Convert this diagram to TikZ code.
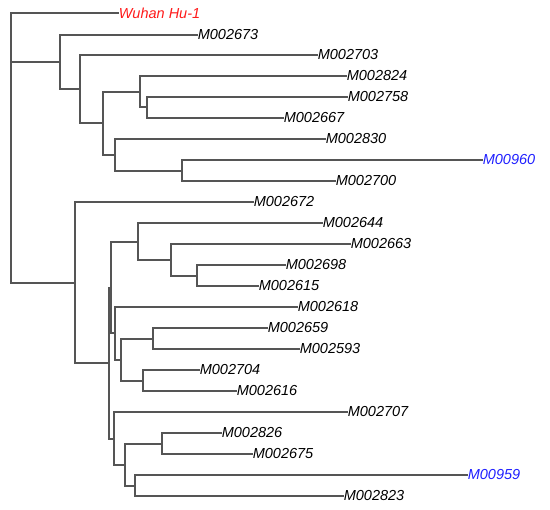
\documentclass[tikz,border=0pt]{standalone}
\usepackage{fontspec}
\setmainfont{Liberation Sans}
\definecolor{branch}{HTML}{555555}
\definecolor{refred}{HTML}{FF1A1A}
\definecolor{refblue}{HTML}{2020FF}
\tikzset{
  leaf/.style={anchor=west, inner sep=0.6pt, font=\fontsize{14.5}{17}\selectfont\itshape, text=black},
  redleaf/.style={leaf, text=refred},
  blueleaf/.style={leaf, text=refblue},
  branchline/.style={draw=branch, line width=1.1pt, line cap=rect}
}
\begin{document}
\begin{tikzpicture}[x=1pt, y=-1pt]
\useasboundingbox (0,0) rectangle (550,510);
% leaves
\node[redleaf] (wuhan) at (118,13) {Wuhan Hu-1};
\node[leaf] (l2673) at (197,35) {M002673};
\node[leaf] (l2703) at (317,55) {M002703};
\node[leaf] (l2824) at (346,76) {M002824};
\node[leaf] (l2758) at (347,97) {M002758};
\node[leaf] (l2667) at (283,118) {M002667};
\node[leaf] (l2830) at (325,139) {M002830};
\node[blueleaf] (l960) at (482,160) {M00960};
\node[leaf] (l2700) at (335,181) {M002700};
\node[leaf] (l2672) at (253,202) {M002672};
\node[leaf] (l2644) at (322,223) {M002644};
\node[leaf] (l2663) at (350,244) {M002663};
\node[leaf] (l2698) at (285,265) {M002698};
\node[leaf] (l2615) at (258,286) {M002615};
\node[leaf] (l2618) at (297,307) {M002618};
\node[leaf] (l2659) at (267,328) {M002659};
\node[leaf] (l2593) at (299,349) {M002593};
\node[leaf] (l2704) at (199,370) {M002704};
\node[leaf] (l2616) at (236,391) {M002616};
\node[leaf] (l2707) at (347,412) {M002707};
\node[leaf] (l2826) at (221,433) {M002826};
\node[leaf] (l2675) at (252,454) {M002675};
\node[blueleaf] (l959) at (467,475) {M00959};
\node[leaf] (l2823) at (343,496) {M002823};
% internal nodes
\coordinate (root) at (11,148);
\coordinate (nA) at (60,62);
\coordinate (nA2) at (80,89);
\coordinate (nA3) at (103,123);
\coordinate (nA4) at (140,92);
\coordinate (nA5) at (147,107);
\coordinate (nA6) at (115,155);
\coordinate (nA7) at (182,171);
\coordinate (nB) at (75,283);
\coordinate (nP) at (109,363);
\coordinate (nQ) at (111,288);
\coordinate (nQ1) at (138,242);
\coordinate (nQ2) at (171,260);
\coordinate (nQ3) at (197,276);
\coordinate (nQ4) at (115,333);
\coordinate (nQ5) at (121,360);
\coordinate (nQ6) at (153,339);
\coordinate (nQ7) at (143,381);
\coordinate (nR) at (114,439);
\coordinate (nR1) at (125,465);
\coordinate (nR2) at (162,444);
\coordinate (nR3) at (135,486);
% branches
\draw[branchline] (wuhan.west) -| (root) |- (nB);
\draw[branchline] (root |- nA) -- (nA);
\draw[branchline] (l2673.west) -| (nA) |- (nA2);
\draw[branchline] (l2703.west) -| (nA2) |- (nA3);
\draw[branchline] (nA4) -| (nA3) |- (nA6);
\draw[branchline] (l2824.west) -| (nA4) |- (nA5);
\draw[branchline] (l2758.west) -| (nA5) |- (l2667.west);
\draw[branchline] (l2830.west) -| (nA6) |- (nA7);
\draw[branchline] (l960.west) -| (nA7) |- (l2700.west);
\draw[branchline] (l2672.west) -| (nB) |- (nP);
\draw[branchline] (nQ) -| (nP) |- (nR);
\draw[branchline] (nQ1) -| (nQ) |- (nQ4);
\draw[branchline] (l2644.west) -| (nQ1) |- (nQ2);
\draw[branchline] (l2663.west) -| (nQ2) |- (nQ3);
\draw[branchline] (l2698.west) -| (nQ3) |- (l2615.west);
\draw[branchline] (l2618.west) -| (nQ4) |- (nQ5);
\draw[branchline] (nQ6) -| (nQ5) |- (nQ7);
\draw[branchline] (l2659.west) -| (nQ6) |- (l2593.west);
\draw[branchline] (l2704.west) -| (nQ7) |- (l2616.west);
\draw[branchline] (l2707.west) -| (nR) |- (nR1);
\draw[branchline] (nR2) -| (nR1) |- (nR3);
\draw[branchline] (l2826.west) -| (nR2) |- (l2675.west);
\draw[branchline] (l959.west) -| (nR3) |- (l2823.west);
\end{tikzpicture}
\end{document}
